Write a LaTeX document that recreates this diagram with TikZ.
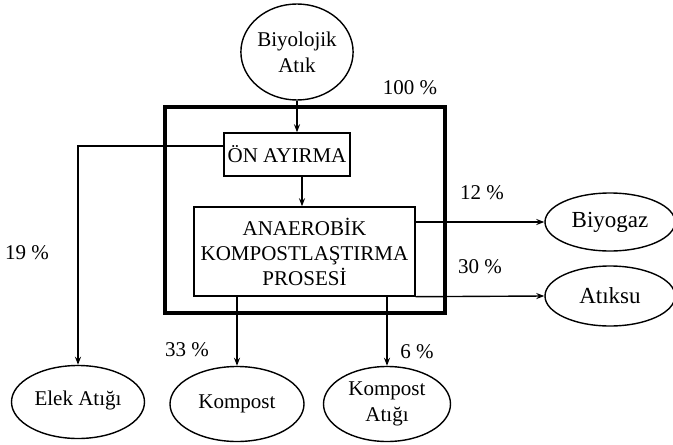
\documentclass[tikz,border=0pt]{standalone}
\usepackage{fontspec}
\setmainfont{Liberation Serif}
\usetikzlibrary{shapes.geometric,arrows.meta}
\tikzset{
  lbl/.style={font=\fontsize{21}{24}\selectfont, inner sep=0pt},
  oval/.style={draw, line width=1.4pt, ellipse, inner sep=0pt, align=center,
    font=\fontsize{21}{26}\selectfont},
  procbox/.style={draw, line width=1.4pt, rectangle, inner sep=0pt, align=center,
    font=\fontsize{21}{25}\selectfont},
  flow/.style={line width=1.4pt, -{Stealth[length=8pt,width=6pt]}},
  frame/.style={draw, line width=3.6pt, rectangle, inner sep=0pt}
}
\begin{document}
\begin{tikzpicture}[x=1pt,y=-1pt]
\useasboundingbox (0,0) rectangle (673,445);
% outer thick frame
\node[frame, minimum width=280pt, minimum height=206pt] (fr) at (305,210) {};
% nodes
\node[oval, minimum width=112pt, minimum height=96pt] (bio) at (297,52) {Biyolojik\\Atık};
\node[procbox, minimum width=126pt, minimum height=43pt] (on) at (287,154.5) {ÖN AYIRMA};
\node[procbox, minimum width=221pt, minimum height=89pt] (an) at (304.5,251.5) {ANAEROBİK\\KOMPOSTLAŞTIRMA\\PROSESİ};
\node[oval, minimum width=130pt, minimum height=58pt, font=\fontsize{23}{26}\selectfont] (gaz) at (610,222) {Biyogaz};
\node[oval, minimum width=130pt, minimum height=60pt, font=\fontsize{23}{26}\selectfont] (su) at (610,296) {Atıksu};
\node[oval, minimum width=133pt, minimum height=73pt] (elek) at (78,402) {\raisebox{8pt}{Elek Atığı}};
\node[oval, minimum width=134pt, minimum height=75pt] (komp) at (237,404) {\raisebox{-6pt}{Kompost}};
\node[oval, minimum width=127pt, minimum height=75pt] (katik) at (387,404) {Kompost\\Atığı};
% percentages
\node[lbl] (p100) at (410,88) {100 \%};
\node[lbl] (p12) at (482,193) {12 \%};
\node[lbl] (p30) at (480,267) {30 \%};
\node[lbl] (p19) at (27,253) {19 \%};
\node[lbl] (p33) at (187,350) {33 \%};
\node[lbl] (p6) at (417,352) {6 \%};
% connectors
\draw[flow] (bio.south) -- (bio.south |- on.north);
\draw[flow] (on.south -| 302,0) -- (an.north -| 302,0);
\coordinate (ely) at (0,146);
\draw[flow] (on.west |- ely) -| (elek.north);
\draw[flow] (an.east |- gaz.west) -- (gaz.west);
\draw[flow] (an.south east) -- (su.west);
\draw[flow] (an.south -| komp.north) -- (komp.north);
\draw[flow] (an.south -| katik.north) -- (katik.north);
\end{tikzpicture}
\end{document}
